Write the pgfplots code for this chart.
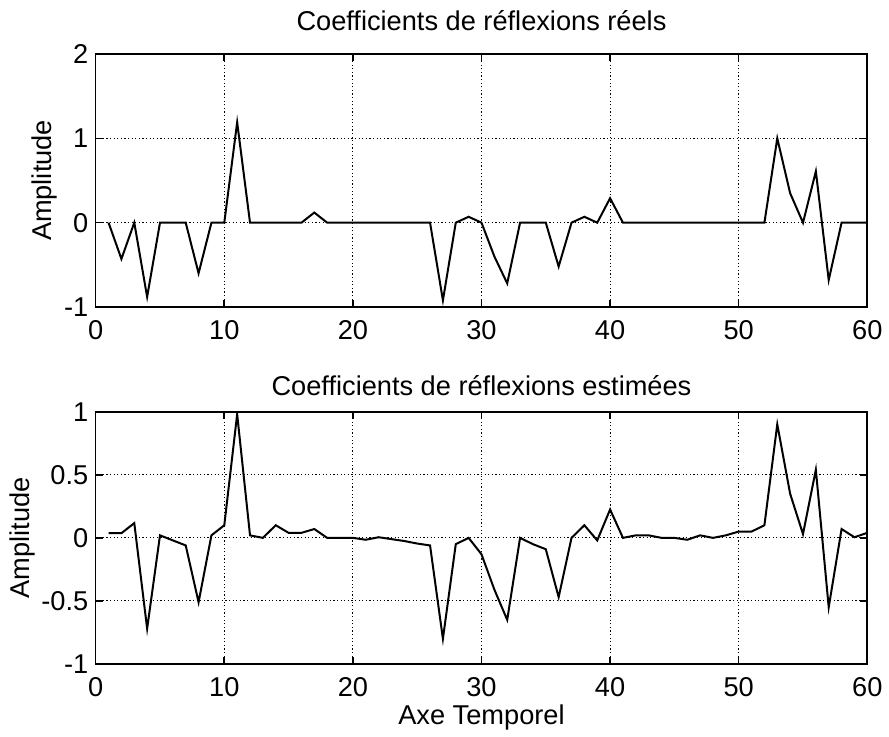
\documentclass[border=0pt]{standalone}
\usepackage{pgfplots}
\pgfplotsset{compat=1.18}
\usepackage{fontspec}
\setmainfont{Liberation Sans}
\pgfplotstableread{
x y
1 0
2 -0.43
3 0
4 -0.88
5 0
6 0
7 0
8 -0.60
9 0
10 0
11 1.19
12 0
13 0
14 0
15 0
16 0
17 0.12
18 0
19 0
20 0
21 0
22 0
23 0
24 0
25 0
26 0
27 -0.92
28 0
29 0.07
30 0
31 -0.40
32 -0.72
33 0
34 0
35 0
36 -0.52
37 0
38 0.07
39 0
40 0.29
41 0
42 0
43 0
44 0
45 0
46 0
47 0
48 0
49 0
50 0
51 0
52 0
53 1.00
54 0.35
55 0
56 0.61
57 -0.68
58 0
59 0
60 0
}\reels
\pgfplotstableread{
x y
1 0.037
2 0.037
3 0.117
4 -0.72
5 0.02
6 -0.02
7 -0.06
8 -0.51
9 0.02
10 0.10
11 0.98
12 0.02
13 0
14 0.10
15 0.04
16 0.04
17 0.07
18 0
19 0
20 0
21 -0.015
22 0.005
23 -0.01
24 -0.025
25 -0.045
26 -0.06
27 -0.80
28 -0.05
29 0
30 -0.13
31 -0.41
32 -0.65
33 0
34 -0.05
35 -0.09
36 -0.47
37 0
38 0.10
39 -0.02
40 0.225
41 0
42 0.02
43 0.02
44 0
45 0
46 -0.015
47 0.02
48 0
49 0.02
50 0.05
51 0.05
52 0.10
53 0.90
54 0.35
55 0.03
56 0.54
57 -0.55
58 0.07
59 0.005
60 0.04
}\estimees
\pgfplotsset{
  mystyle/.style={
    scale only axis,
    width=385.8pt,
    xmin=0, xmax=60,
    xtick={0,10,20,30,40,50,60},
    xticklabels={0,10,20,30,40,50,60},
    grid=major,
    major grid style={black, line width=0.5pt, dash pattern=on 0.6pt off 1.2pt},
    axis line style={black, line width=0.8pt},
    major tick length=3.5pt,
    tick style={black, line width=0.8pt},
    tick align=inside,
    xticklabel style={yshift=-2pt},
    yticklabel style={xshift=1pt},
    ylabel={Amplitude},
    ylabel style={yshift=-6pt},
  }
}
\begin{document}
\fontsize{13.6}{16}\selectfont
\begin{tikzpicture}
\useasboundingbox (0,0) rectangle (444.5pt,-368pt);
\begin{axis}[mystyle,
  at={(47.85pt,-153.5pt)}, anchor=south west,
  height=126.5pt,
  ymin=-1, ymax=2,
  ytick={-1,0,1,2},
  yticklabels={-1,0,1,2},
  title={Coefficients de réflexions réels},
  title style={yshift=1pt},
]
\addplot[black, line width=1pt, mark=none] table[x=x,y=y] {\reels};
\end{axis}
\begin{axis}[mystyle,
  at={(47.85pt,-332pt)}, anchor=south west,
  height=126.15pt,
  ymin=-1, ymax=1,
  ytick={-1,-0.5,0,0.5,1},
  yticklabels={-1,-0.5,0,0.5,1},
  title={Coefficients de réflexions estimées},
  title style={yshift=-3pt},
  xlabel={Axe Temporel},
  xlabel style={yshift=5pt},
]
\addplot[black, line width=1pt, mark=none] table[x=x,y=y] {\estimees};
\end{axis}
\end{tikzpicture}
\end{document}
